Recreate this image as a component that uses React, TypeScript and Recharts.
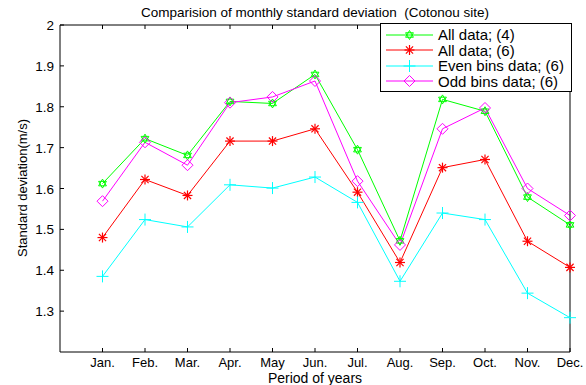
import React from "react";
import { LineChart, Line, XAxis, YAxis } from "recharts";

const months = ["Jan.", "Feb.", "Mar.", "Apr.", "May", "Jun.", "Jul.", "Aug.", "Sep.", "Oct.", "Nov.", "Dec."];
const monthPos = [1, 2, 3, 4, 5, 6, 7, 8, 9, 10, 11, 12];
const yTicks = [1.3, 1.4, 1.5, 1.6, 1.7, 1.8, 1.9, 2];

const allData4 = [1.612, 1.722, 1.681, 1.813, 1.808, 1.879, 1.695, 1.472, 1.818, 1.789, 1.579, 1.511];
const allData6 = [1.48, 1.622, 1.583, 1.716, 1.716, 1.746, 1.591, 1.419, 1.651, 1.671, 1.471, 1.407];
const evenBins6 = [1.385, 1.524, 1.506, 1.609, 1.601, 1.628, 1.566, 1.373, 1.54, 1.524, 1.344, 1.284];
const oddBins6 = [1.569, 1.713, 1.657, 1.81, 1.824, 1.863, 1.618, 1.462, 1.746, 1.797, 1.6, 1.534];

const FONT = "'Liberation Sans', Arial, Helvetica, sans-serif";
const W = 586;
const H = 385;

const data = monthPos.map((p, i) => ({
  pos: p,
  all4: allData4[i],
  all6: allData6[i],
  even6: evenBins6[i],
  odd6: oddBins6[i],
}));

type MarkerKind = "hexagram" | "asterisk" | "plus" | "diamond";

function Marker({ kind, cx, cy, color }: { kind: MarkerKind; cx: number; cy: number; color: string }) {
  if (kind === "hexagram") {
    const r = 4.5;
    const tri = (start: number) =>
      [0, 1, 2]
        .map((k) => {
          const a = ((start + k * 120) * Math.PI) / 180;
          return `${cx + r * Math.cos(a)},${cy + r * Math.sin(a)}`;
        })
        .join(" ");
    return (
      <g stroke={color} fill="none" strokeWidth={1}>
        <polygon points={tri(-90)} />
        <polygon points={tri(90)} />
      </g>
    );
  }
  if (kind === "asterisk") {
    const r = 5;
    const d = r * 0.72;
    return (
      <g stroke={color} strokeWidth={1.2}>
        <line x1={cx - r} x2={cx + r} y1={cy} y2={cy} />
        <line x1={cx} x2={cx} y1={cy - r} y2={cy + r} />
        <line x1={cx - d} x2={cx + d} y1={cy - d} y2={cy + d} />
        <line x1={cx - d} x2={cx + d} y1={cy + d} y2={cy - d} />
      </g>
    );
  }
  if (kind === "plus") {
    const r = 6;
    return (
      <g stroke={color} strokeWidth={1}>
        <line x1={cx - r} x2={cx + r} y1={cy} y2={cy} />
        <line x1={cx} x2={cx} y1={cy - r} y2={cy + r} />
      </g>
    );
  }
  const r = 5.5;
  return (
    <polygon
      points={`${cx},${cy - r} ${cx + r},${cy} ${cx},${cy + r} ${cx - r},${cy}`}
      stroke={color}
      fill="none"
      strokeWidth={1}
    />
  );
}

const series: { key: string; name: string; color: string; marker: MarkerKind }[] = [
  { key: "all4", name: "All data; (4)", color: "#00ff00", marker: "hexagram" },
  { key: "all6", name: "All data; (6)", color: "#ff0000", marker: "asterisk" },
  { key: "even6", name: "Even bins data; (6)", color: "#00ffff", marker: "plus" },
  { key: "odd6", name: "Odd bins data; (6)", color: "#ff00ff", marker: "diamond" },
];

// MATLAB-style ticks: short marks pointing into the plot box
const BottomTick = (props: any) => {
  const { x, y, payload } = props;
  return (
    <g>
      <line x1={x} x2={x} y1={y} y2={y - 4} stroke="#000" />
      <text x={x} y={y + 15} textAnchor="middle" fontSize={13} fontFamily={FONT} fill="#000">
        {months[payload.value - 1]}
      </text>
    </g>
  );
};

const TopTick = (props: any) => {
  const { x, y } = props;
  return <line x1={x} x2={x} y1={y} y2={y + 4} stroke="#000" />;
};

const LeftTick = (props: any) => {
  const { x, y, payload } = props;
  const v = payload.value as number;
  return (
    <g>
      <line x1={x} x2={x + 4} y1={y} y2={y} stroke="#000" />
      <text x={x - 6} y={y + 5} textAnchor="end" fontSize={13.5} fontFamily={FONT} fill="#000">
        {v === 2 ? "2" : v.toFixed(1)}
      </text>
    </g>
  );
};

const RightTick = (props: any) => {
  const { x, y } = props;
  return <line x1={x} x2={x - 4} y1={y} y2={y} stroke="#000" />;
};

const LegendBox = () => (
  <div
    style={{
      position: "absolute",
      left: 380,
      top: 23,
      border: "1px solid #000",
      background: "#fff",
      width: 190,
      padding: "3px 0 2px 0",
      fontFamily: FONT,
      fontSize: 15,
      lineHeight: "15.5px",
      color: "#000",
    }}
  >
    {series.map((s) => (
      <div key={s.key} style={{ display: "flex", alignItems: "center", height: 15.5 }}>
        <svg width={56} height={14} style={{ flex: "none" }}>
          <line x1={5} x2={52} y1={7} y2={7} stroke={s.color} strokeWidth={1} />
          <Marker kind={s.marker} cx={28.5} cy={7} color={s.color} />
        </svg>
        <span style={{ marginLeft: 1, whiteSpace: "nowrap" }}>{s.name}</span>
      </div>
    ))}
  </div>
);

export default function App() {
  return (
    <div style={{ position: "absolute", left: 0, top: 0, width: W, height: H, background: "#fff" }}>
      <div
        style={{
          position: "absolute",
          left: 60,
          width: 510,
          top: 5,
          textAlign: "center",
          fontFamily: FONT,
          fontSize: 13.5,
          lineHeight: "16px",
          color: "#000",
          whiteSpace: "nowrap",
        }}
      >
        Comparision of monthly standard deviation&nbsp;&nbsp;(Cotonou site)
      </div>
      <div
        style={{
          position: "absolute",
          left: 22,
          top: 188,
          transform: "translate(-50%, -50%) rotate(-90deg)",
          fontFamily: FONT,
          fontSize: 13,
          lineHeight: "15px",
          color: "#000",
          whiteSpace: "nowrap",
        }}
      >
        Standard deviation(m/s)
      </div>
      <div
        style={{
          position: "absolute",
          left: 60,
          width: 510,
          top: 372,
          textAlign: "center",
          fontFamily: FONT,
          fontSize: 14,
          lineHeight: "12px",
          color: "#000",
          whiteSpace: "nowrap",
        }}
      >
        Period of years
      </div>
      <LineChart
        width={W}
        height={H}
        data={data}
        margin={{ top: 24, right: 15, bottom: 0, left: 0 }}
        style={{ position: "absolute", left: 0, top: 0 }}
      >
        <XAxis
          dataKey="pos"
          type="number"
          domain={[0, 12]}
          ticks={monthPos}
          interval={0}
          height={33}
          axisLine={{ stroke: "#000" }}
          tickLine={false}
          tickSize={0}
          tickMargin={0}
          tick={<BottomTick />}
        />
        <XAxis
          xAxisId="top"
          dataKey="pos"
          type="number"
          orientation="top"
          domain={[0, 12]}
          ticks={monthPos}
          interval={0}
          height={1}
          axisLine={{ stroke: "#000" }}
          tickLine={false}
          tickSize={0}
          tickMargin={0}
          tick={<TopTick />}
        />
        <YAxis
          type="number"
          domain={[1.2, 2]}
          ticks={yTicks}
          interval={0}
          width={60}
          axisLine={{ stroke: "#000" }}
          tickLine={false}
          tickSize={0}
          tickMargin={0}
          tick={<LeftTick />}
        />
        <YAxis
          yAxisId="right"
          orientation="right"
          type="number"
          domain={[1.2, 2]}
          ticks={yTicks}
          interval={0}
          width={1}
          axisLine={{ stroke: "#000" }}
          tickLine={false}
          tickSize={0}
          tickMargin={0}
          tick={<RightTick />}
        />
        {series.map((s) => (
          <Line
            key={s.key}
            type="linear"
            dataKey={s.key}
            name={s.name}
            stroke={s.color}
            strokeWidth={1}
            isAnimationActive={false}
            activeDot={false}
            dot={(p: any) => <Marker key={`${s.key}-${p.index}`} kind={s.marker} cx={p.cx} cy={p.cy} color={s.color} />}
          />
        ))}
      </LineChart>
      <LegendBox />
    </div>
  );
}
